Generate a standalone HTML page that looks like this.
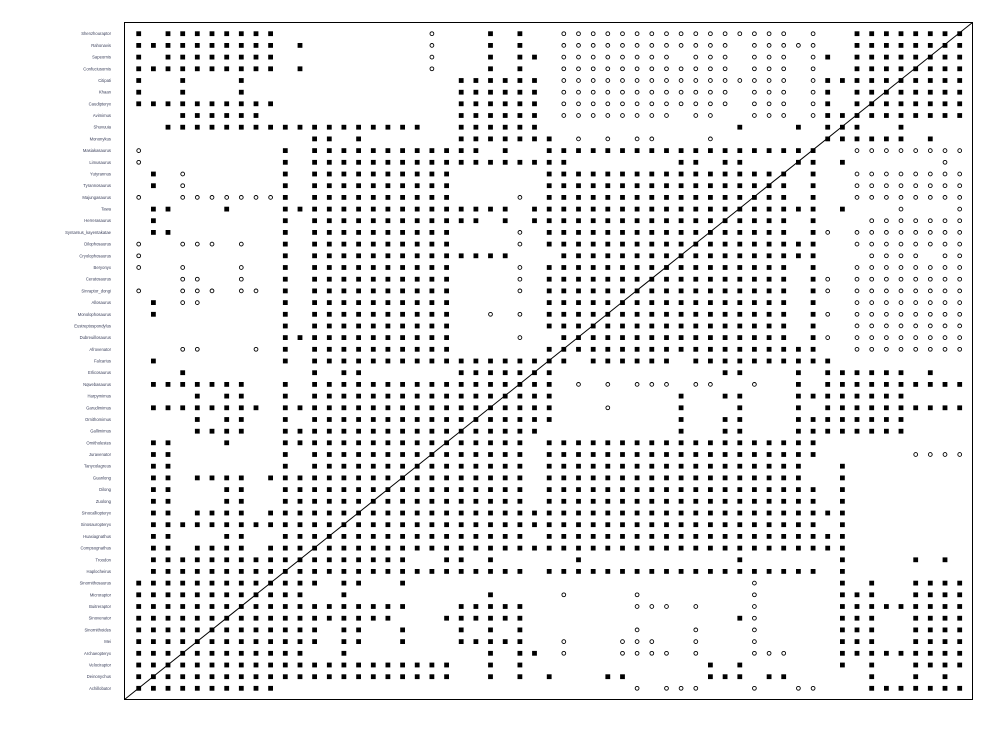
<!DOCTYPE html>
<html><head><meta charset="utf-8"><style>
html,body{margin:0;padding:0;background:#fff;}
svg{display:block;}
</style></head><body>
<svg id="s" width="999" height="736" xmlns="http://www.w3.org/2000/svg">
<rect x="124.5" y="22.5" width="848" height="677" fill="none" stroke="#000" stroke-width="1"/>
<line x1="124.5" y1="699.5" x2="972.5" y2="22.5" stroke="#000" stroke-width="1"/>
<g id="g"></g>
</svg>
<script>
var names=["Shenzhouraptor","Rahonavis","Sapeornis","Confuciusornis","Citipati","Khaan","Caudipteryx","Avimimus","Shuvuuia","Mononykus","Masiakasaurus","Limusaurus","Yutyrannus","Tyrannosaurus","Majungasaurus","Tawa","Herrerasaurus","Syntarsus_kayentakatae","Dilophosaurus","Cryolophosaurus","Beryonyx","Ceratosaurus","Sinraptor_dongi","Allosaurus","Monolophosaurus","Eustreptospondylus","Dubreuillosaurus","Afrovenator","Falcarius","Erlicosaurus","Nqwebasaurus","Harpymimus","Garudimimus","Ornithomimus","Gallimimus","Ornitholestes","Juravenator","Tanycolagreus","Guanlong","Dilong","Zuolong","Sinocalliopteryx","Sinosauropteryx","Huaxiagnathus","Compsognathus","Troodon","Haplocheirus","Sinornithosaurus","Microraptor","Buitreraptor","Sinovenator","Sinornithoides","Mei","Archaeopteryx","Velociraptor","Deinonychus","Achillobator"];
var rows=[
"s0,2-9,24,26,49-56;o20,29-44,46",
"s0-9,11,24,26,49-56;o20,29-40,42-46",
"s0,2-9,24,26,27,47,49-56;o20,29-36,38-40,42-44,46",
"s0-9,11,24,26,49-56;o20,29-40,42-44,46",
"s0,3,7,22-27,47-56;o29-44,46",
"s0,3,7,22-27,47,49-56;o29-40,42-44,46",
"s0-9,22-27,47,49-56;o29-40,42-44,46",
"s3-8,22-27,47-56;o29-36,38,39,42-44,46",
"s2-19,22-27,41,45,47-49,52",
"s12,13,15,22-28,47-52,54;o30,32,34,35,39",
"s10,12-23,25,28-46;o0,49-56",
"s10,12-29,37,38,40,41,45,46,48;o0,55",
"s1,10,12-21,28-44,46;o3,49-56",
"s1,10,12-21,28-44,46;o3,49-56",
"s10,12-21,28-44,46;o0,3-9,26,49-56",
"s1,2,6,10-25,27-46,48;o52,56",
"s1,10,12-23,25,27-44,46;o50-56",
"s1,2,10,12-21,28-44,46;o26,47,49-56",
"s10,12-21,28-46;o0,3-5,7,26,49-56",
"s10,12-25,29-46;o0,50-53,55,56",
"s10,12-21,28-44,46;o0,3,7,26,49-56",
"s10,12-21,28-44,46;o3,4,7,26,47,49-56",
"s10,12-21,28-44,46;o0,3-5,7,8,26,47,49-56",
"s1,10,12-21,28-44,46;o3,4,49-56",
"s1,10,12-21,28-44,46;o24,26,47,49-56",
"s10,12-21,28-44,46;o49-56",
"s10-21,29-44,46;o26,47,49-56",
"s10,12-21,28-46;o3,4,8,49-56",
"s1,10,12-29,31-36,38-47",
"s3,12,14,15,22-28,40,41,45,47-52,54",
"s1-7,10,12-28,45,47-56;o30,32,34-36,38,39,42",
"s4,6,7,10,12-28,37,40,41,45-52",
"s1-8,10-28,37,41,45,47-56;o32",
"s4,6,7,10,12-28,37,40,41,45-52",
"s4-7,10-27,37,40,41,45-52",
"s1,2,6,10-26,28-46",
"s1,2,10,12-26,28-46;o53-56",
"s1,2,10,12-26,28-45,48",
"s1,2,4-7,9-26,28-45,48",
"s1,2,6,7,10-26,28-46,48",
"s1,2,6,7,10-26,28-46,48",
"s1,2,4-7,9-48",
"s1-46,48",
"s1,2,6,7,10-26,28-48",
"s1,2,4-7,9-48",
"s1-18,21,22,24,30,41,48,53,55",
"s1-26,28-46,48",
"s0-12,14,15,18,48,50,53-56;o42",
"s0-11,14,24,48-50,53-56;o29,34,42",
"s0-18,22-26,48-56;o34-36,38,42",
"s0-17,21-26,41,48-50,53-56;o42",
"s0-12,14,15,18,22,24,26,48-50,53-56;o34,38,42",
"s0-12,14,15,18,22-26,48-50,53-56;o29,33-35,38,42",
"s0-11,14,24,26,27,48-56;o29,33-36,38,42-44",
"s0-21,24,26,39,41,48,50,53-56",
"s0-21,24,26,28,32,33,39-41,43,44,50,53,55",
"s0-9,50-56;o34,36-38,42,45,46"
];
function parse(str){var out=[];str.split(",").forEach(function(p){if(!p)return;var a=p.split("-");var s=+a[0],e=a.length>1?+a[1]:s;for(var i=s;i<=e;i++)out.push(i);});return out;}
var h="";
for(var j=0;j<57;j++){
  var y=33.7+11.69*j;
  h+='<text x="111" y="'+(y+1.5).toFixed(1)+'" text-anchor="end" font-family="Liberation Sans, sans-serif" font-size="4.2" fill="#3a3f5a">'+names[j]+'</text>';
  rows[j].split(";").forEach(function(part){
    var t=part[0];var cols=parse(part.slice(1));
    cols.forEach(function(c){
      var x=138.7+14.66*c;
      if(t=="s") h+='<rect x="'+(x-2.4).toFixed(1)+'" y="'+(y-2.4).toFixed(1)+'" width="4.8" height="4.8" fill="#000"/>';
      else h+='<circle cx="'+x.toFixed(1)+'" cy="'+y.toFixed(1)+'" r="1.9" fill="none" stroke="#000" stroke-width="0.9"/>';
    });
  });
}
document.getElementById("g").innerHTML=h;
</script>
</body></html>
